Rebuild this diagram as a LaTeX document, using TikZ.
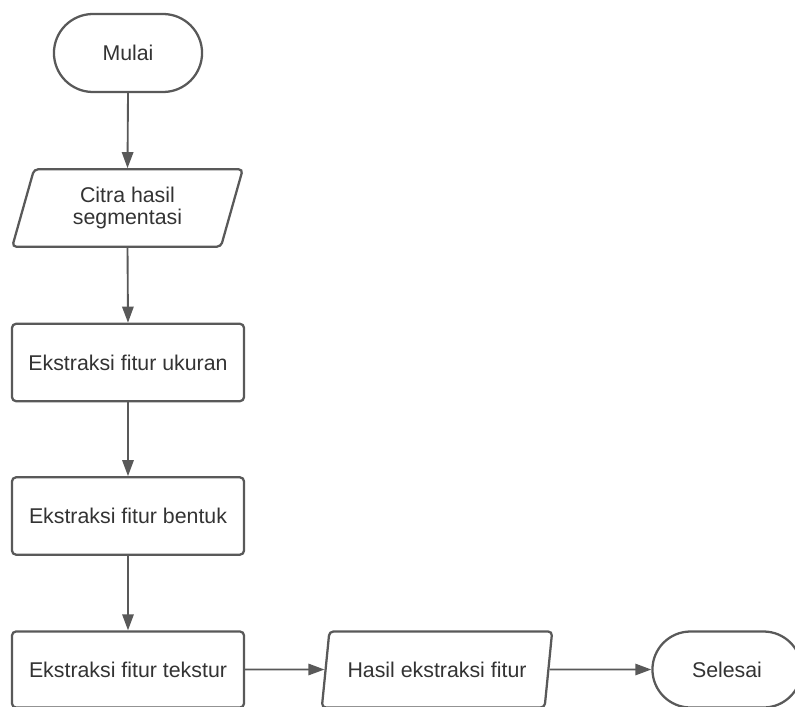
\documentclass[tikz,border=0pt]{standalone}
\usepackage{fontspec}
\setmainfont{Liberation Sans}
\usetikzlibrary{arrows.meta,shapes.geometric,shapes.misc}
\definecolor{ink}{HTML}{333333}
\definecolor{edge}{HTML}{595959}

\begin{document}
\begin{tikzpicture}[x=0.75pt,y=-0.75pt,font=\fontsize{16}{17}\selectfont,
    terminal/.style={rounded rectangle,draw=edge,line width=1.7pt,text=ink,
      minimum width=117.75pt,minimum height=57pt},
    process/.style={rectangle,rounded corners=3pt,draw=edge,line width=1.7pt,
      text=ink,minimum width=174pt,minimum height=58pt},
    data/.style={trapezium,trapezium left angle=75,trapezium right angle=105,
      trapezium stretches=true,rounded corners=3pt,draw=edge,line width=1.7pt,
      text=ink,align=center,minimum width=173pt,minimum height=58pt},
    flow/.style={draw=edge,line width=1.4pt,-{Triangle[length=12pt,width=8.5pt]}}]
    \useasboundingbox (0,0) rectangle (795,706);
    \clip (0,0) rectangle (795,706);
    \node[terminal,minimum height=58.5pt] (mulai) at (128,53) {Mulai};
    \node[data] (citra) at (127.5,208) {Citra hasil\\ segmentasi};
    \node[process] (ukuran) at (128,362.5) {Ekstraksi fitur ukuran};
    \node[process] (bentuk) at (128,516) {Ekstraksi fitur bentuk};
    \node[process,minimum height=57pt] (tekstur) at (128,669.5) {Ekstraksi fitur tekstur};
    \node[data,minimum height=57pt] (hasil) at (437,669.5) {Hasil ekstraksi fitur};
    \node[terminal,minimum width=118.5pt,minimum height=57pt] (selesai) at (727,669.5) {Selesai};
    \draw[flow] (mulai.south) -- (citra.north);
    \draw[flow] (citra.south) -- (ukuran.north);
    \draw[flow] (ukuran) -- (bentuk);
    \draw[flow] (bentuk) -- (tekstur);
    \draw[flow] (tekstur) -- (hasil);
    \draw[flow] (hasil) -- (selesai);
  \end{tikzpicture}
\end{document}
